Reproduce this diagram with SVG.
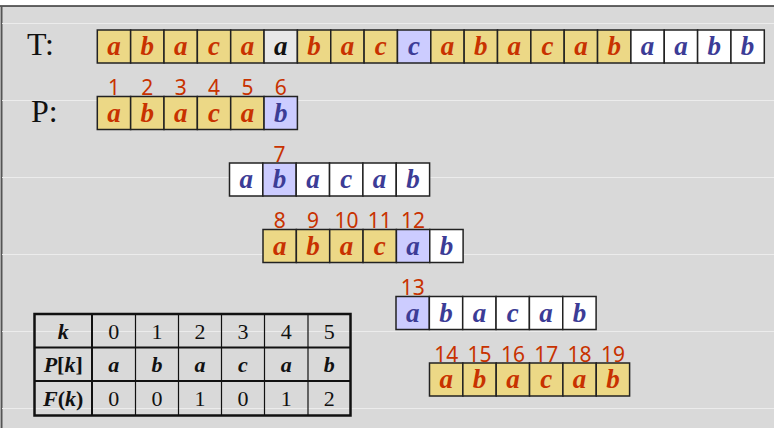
<svg xmlns="http://www.w3.org/2000/svg" width="774" height="428" viewBox="0 0 774 428">
<style>
.bg{fill:#d9d9d9}
.gl{stroke:#ececec;stroke-width:1.2}
.c{stroke:#222;stroke-width:1.5}
.y{fill:#ecd886}
.w{fill:#ffffff}
.l{fill:#ccccff}
.g{fill:#e8e8e8}
.ch{font-family:"Liberation Serif",serif;font-weight:bold;font-style:italic;font-size:27px;text-anchor:middle}
.r{fill:#c83200}
.b{fill:#3c3c96}
.k{fill:#111}
.n{font-family:"Noto Sans","DejaVu Sans",sans-serif;font-size:21px;fill:#c83200;text-anchor:middle}
.lab{font-family:"Liberation Serif",serif;font-size:32px;fill:#111}
.tt{font-family:"Liberation Serif",serif;font-size:22px;fill:#111;text-anchor:middle}
.tb{font-weight:bold;font-style:italic}
.tl{stroke:#111;fill:none}
</style>
<rect x="0" y="0" width="774" height="428" fill="#ffffff"/>
<rect class="bg" x="1" y="6" width="773" height="422"/>
<line x1="0" y1="6" x2="774" y2="6" stroke="#333" stroke-width="1.5"/>
<line x1="1.5" y1="6" x2="1.5" y2="428" stroke="#555" stroke-width="2"/>
<g id="gridlines">
<line class="gl" x1="2" y1="23.5" x2="774" y2="23.5"/>
<line class="gl" x1="2" y1="100.5" x2="774" y2="100.5"/>
<line class="gl" x1="2" y1="177.5" x2="774" y2="177.5"/>
<line class="gl" x1="2" y1="254.5" x2="774" y2="254.5"/>
<line class="gl" x1="2" y1="331.5" x2="774" y2="331.5"/>
<line class="gl" x1="2" y1="408.5" x2="774" y2="408.5"/>
</g>
<g id="label-T"><text class="lab" x="27" y="55">T:</text></g>
<g id="label-P"><text class="lab" x="31" y="122">P:</text></g>

<g id="row-T" transform="translate(97.3,30)">
<rect class="c y" x="0" y="0" width="33.35" height="33"/><text class="ch r" x="16.7" y="25">a</text>
<rect class="c y" x="33.35" y="0" width="33.35" height="33"/><text class="ch r" x="50" y="25">b</text>
<rect class="c y" x="66.7" y="0" width="33.35" height="33"/><text class="ch r" x="83.4" y="25">a</text>
<rect class="c y" x="100.05" y="0" width="33.35" height="33"/><text class="ch r" x="116.7" y="25">c</text>
<rect class="c y" x="133.4" y="0" width="33.35" height="33"/><text class="ch r" x="150.1" y="25">a</text>
<rect class="c g" x="166.75" y="0" width="33.35" height="33"/><text class="ch k" x="183.4" y="25">a</text>
<rect class="c y" x="200.1" y="0" width="33.35" height="33"/><text class="ch r" x="216.8" y="25">b</text>
<rect class="c y" x="233.45" y="0" width="33.35" height="33"/><text class="ch r" x="250.1" y="25">a</text>
<rect class="c y" x="266.8" y="0" width="33.35" height="33"/><text class="ch r" x="283.5" y="25">c</text>
<rect class="c l" x="300.15" y="0" width="33.35" height="33"/><text class="ch b" x="316.8" y="25">c</text>
<rect class="c y" x="333.5" y="0" width="33.35" height="33"/><text class="ch r" x="350.2" y="25">a</text>
<rect class="c y" x="366.85" y="0" width="33.35" height="33"/><text class="ch r" x="383.5" y="25">b</text>
<rect class="c y" x="400.2" y="0" width="33.35" height="33"/><text class="ch r" x="416.9" y="25">a</text>
<rect class="c y" x="433.55" y="0" width="33.35" height="33"/><text class="ch r" x="450.2" y="25">c</text>
<rect class="c y" x="466.9" y="0" width="33.35" height="33"/><text class="ch r" x="483.6" y="25">a</text>
<rect class="c y" x="500.25" y="0" width="33.35" height="33"/><text class="ch r" x="516.9" y="25">b</text>
<rect class="c w" x="533.6" y="0" width="33.35" height="33"/><text class="ch b" x="550.3" y="25">a</text>
<rect class="c w" x="566.95" y="0" width="33.35" height="33"/><text class="ch b" x="583.6" y="25">a</text>
<rect class="c w" x="600.3" y="0" width="33.35" height="33"/><text class="ch b" x="617" y="25">b</text>
<rect class="c w" x="633.65" y="0" width="33.35" height="33"/><text class="ch b" x="650.3" y="25">b</text>
</g>

<g id="row-P" transform="translate(97.3,96.5)">
<rect class="c y" x="0" y="0" width="33.35" height="33"/><text class="ch r" x="16.7" y="25">a</text>
<rect class="c y" x="33.35" y="0" width="33.35" height="33"/><text class="ch r" x="50" y="25">b</text>
<rect class="c y" x="66.7" y="0" width="33.35" height="33"/><text class="ch r" x="83.4" y="25">a</text>
<rect class="c y" x="100.05" y="0" width="33.35" height="33"/><text class="ch r" x="116.7" y="25">c</text>
<rect class="c y" x="133.4" y="0" width="33.35" height="33"/><text class="ch r" x="150.1" y="25">a</text>
<rect class="c l" x="166.75" y="0" width="33.35" height="33"/><text class="ch b" x="183.4" y="25">b</text>
<text class="n" x="16.7" y="-1.5">1</text>
<text class="n" x="50" y="-1.5">2</text>
<text class="n" x="83.4" y="-1.5">3</text>
<text class="n" x="116.7" y="-1.5">4</text>
<text class="n" x="150.1" y="-1.5">5</text>
<text class="n" x="183.4" y="-1.5">6</text>
</g>

<g id="row-3" transform="translate(229.5,163)">
<rect class="c w" x="0" y="0" width="33.35" height="33"/><text class="ch b" x="16.7" y="25">a</text>
<rect class="c l" x="33.35" y="0" width="33.35" height="33"/><text class="ch b" x="50" y="25">b</text>
<rect class="c w" x="66.7" y="0" width="33.35" height="33"/><text class="ch b" x="83.4" y="25">a</text>
<rect class="c w" x="100.05" y="0" width="33.35" height="33"/><text class="ch b" x="116.7" y="25">c</text>
<rect class="c w" x="133.4" y="0" width="33.35" height="33"/><text class="ch b" x="150.1" y="25">a</text>
<rect class="c w" x="166.75" y="0" width="33.35" height="33"/><text class="ch b" x="183.4" y="25">b</text>
<text class="n" x="50" y="-1.5">7</text>
</g>

<g id="row-4" transform="translate(263,229.5)">
<rect class="c y" x="0" y="0" width="33.35" height="33"/><text class="ch r" x="16.7" y="25">a</text>
<rect class="c y" x="33.35" y="0" width="33.35" height="33"/><text class="ch r" x="50" y="25">b</text>
<rect class="c y" x="66.7" y="0" width="33.35" height="33"/><text class="ch r" x="83.4" y="25">a</text>
<rect class="c y" x="100.05" y="0" width="33.35" height="33"/><text class="ch r" x="116.7" y="25">c</text>
<rect class="c l" x="133.4" y="0" width="33.35" height="33"/><text class="ch b" x="150.1" y="25">a</text>
<rect class="c w" x="166.75" y="0" width="33.35" height="33"/><text class="ch b" x="183.4" y="25">b</text>
<text class="n" x="16.7" y="-1.5">8</text>
<text class="n" x="50" y="-1.5">9</text>
<text class="n" x="83.4" y="-1.5">10</text>
<text class="n" x="116.7" y="-1.5">11</text>
<text class="n" x="150.1" y="-1.5">12</text>
</g>

<g id="row-5" transform="translate(396,296.5)">
<rect class="c l" x="0" y="0" width="33.35" height="33"/><text class="ch b" x="16.7" y="25">a</text>
<rect class="c w" x="33.35" y="0" width="33.35" height="33"/><text class="ch b" x="50" y="25">b</text>
<rect class="c w" x="66.7" y="0" width="33.35" height="33"/><text class="ch b" x="83.4" y="25">a</text>
<rect class="c w" x="100.05" y="0" width="33.35" height="33"/><text class="ch b" x="116.7" y="25">c</text>
<rect class="c w" x="133.4" y="0" width="33.35" height="33"/><text class="ch b" x="150.1" y="25">a</text>
<rect class="c w" x="166.75" y="0" width="33.35" height="33"/><text class="ch b" x="183.4" y="25">b</text>
<text class="n" x="16.7" y="-1.5">13</text>
</g>

<g id="row-6" transform="translate(429.5,363)">
<rect class="c y" x="0" y="0" width="33.35" height="33"/><text class="ch r" x="16.7" y="25">a</text>
<rect class="c y" x="33.35" y="0" width="33.35" height="33"/><text class="ch r" x="50" y="25">b</text>
<rect class="c y" x="66.7" y="0" width="33.35" height="33"/><text class="ch r" x="83.4" y="25">a</text>
<rect class="c y" x="100.05" y="0" width="33.35" height="33"/><text class="ch r" x="116.7" y="25">c</text>
<rect class="c y" x="133.4" y="0" width="33.35" height="33"/><text class="ch r" x="150.1" y="25">a</text>
<rect class="c y" x="166.75" y="0" width="33.35" height="33"/><text class="ch r" x="183.4" y="25">b</text>
<text class="n" x="16.7" y="-1.5">14</text>
<text class="n" x="50" y="-1.5">15</text>
<text class="n" x="83.4" y="-1.5">16</text>
<text class="n" x="116.7" y="-1.5">17</text>
<text class="n" x="150.1" y="-1.5">18</text>
<text class="n" x="183.4" y="-1.5">19</text>
</g>

<g id="table">
<g class="tl">
<line x1="135.5" y1="314" x2="135.5" y2="415.5" stroke-width="1.2"/>
<line x1="178.5" y1="314" x2="178.5" y2="415.5" stroke-width="1.2"/>
<line x1="221.5" y1="314" x2="221.5" y2="415.5" stroke-width="1.2"/>
<line x1="264.5" y1="314" x2="264.5" y2="415.5" stroke-width="1.2"/>
<line x1="308" y1="314" x2="308" y2="415.5" stroke-width="1.2"/>
<line x1="92" y1="314" x2="92" y2="415.5" stroke-width="2"/>
<line x1="34.5" y1="347.5" x2="350.5" y2="347.5" stroke-width="2"/>
<line x1="34.5" y1="381" x2="350.5" y2="381" stroke-width="2"/>
<rect x="34.5" y="314" width="316" height="101.5" stroke-width="2.5"/>
</g>
<text class="tt tb" x="63.2" y="338.5">k</text>
<text class="tt" x="113.7" y="338.5">0</text>
<text class="tt" x="157" y="338.5">1</text>
<text class="tt" x="200" y="338.5">2</text>
<text class="tt" x="243" y="338.5">3</text>
<text class="tt" x="286.2" y="338.5">4</text>
<text class="tt" x="329.2" y="338.5">5</text>
<text class="tt" x="63.2" y="372" font-weight="bold"><tspan font-style="italic">P</tspan>[<tspan font-style="italic">k</tspan>]</text>
<text class="tt tb" x="113.7" y="372">a</text>
<text class="tt tb" x="157" y="372">b</text>
<text class="tt tb" x="200" y="372">a</text>
<text class="tt tb" x="243" y="372">c</text>
<text class="tt tb" x="286.2" y="372">a</text>
<text class="tt tb" x="329.2" y="372">b</text>
<text class="tt" x="63.2" y="405.5" font-weight="bold"><tspan font-style="italic">F</tspan>(<tspan font-style="italic">k</tspan>)</text>
<text class="tt" x="113.7" y="405.5">0</text>
<text class="tt" x="157" y="405.5">0</text>
<text class="tt" x="200" y="405.5">1</text>
<text class="tt" x="243" y="405.5">0</text>
<text class="tt" x="286.2" y="405.5">1</text>
<text class="tt" x="329.2" y="405.5">2</text>
</g>
</svg>
